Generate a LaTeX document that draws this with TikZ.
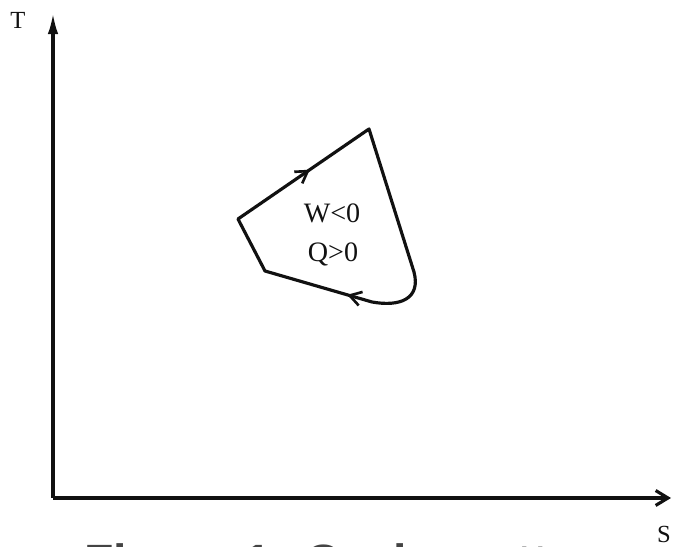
\documentclass[tikz,border=0pt]{standalone}
\usepackage{fontspec}
\setmainfont{Liberation Serif}
\newfontfamily\capfont{Liberation Sans}
\usepackage{tikz}
\usetikzlibrary{arrows.meta,decorations.markings}
\definecolor{ink}{HTML}{111111}
\definecolor{capgray}{HTML}{444444}
\tikzset{
  axisline/.style={line width=1.8pt,color=ink},
  cycline/.style={line width=1.8pt,color=ink,line join=round},
  axislabel/.style={font=\fontsize{14}{16}\selectfont,text=ink,inner sep=0pt},
  statelabel/.style={font=\fontsize{16}{19}\selectfont,text=ink,inner sep=0pt},
  flowarr/.style={decoration={markings,
      mark=at position 0.16 with {\arrow{Straight Barb[length=6.5pt,width=8pt,line width=1.5pt]}},
      mark=at position 0.735 with {\arrow{Straight Barb[length=6.5pt,width=8pt,line width=1.5pt]}}},
    postaction={decorate}},
  caption/.style={font=\capfont\bfseries\fontsize{27.4}{30}\selectfont,text=capgray,
    anchor=base west,inner sep=0pt},
}
\begin{document}
\begin{tikzpicture}[x=0.02cm,y=0.02cm]
  \useasboundingbox (0,0) rectangle (673,547);
  \clip (0,0) rectangle (673,547);
  \coordinate (O) at (53,49);
  \coordinate (ytop) at (53,534);
  \coordinate (xend) at (671,49);
  \draw[axisline,-{Latex[length=12pt,width=6pt]}] (O) -- (ytop);
  \draw[axisline,-{Straight Barb[length=7pt,width=8.5pt]}] (O) -- (xend);
  \node[axislabel] (T) at (18,527) {T};
  \node[axislabel] (S) at (664,13) {S};

  \coordinate (A) at (369,418);
  \coordinate (B) at (238,328);
  \coordinate (C) at (265,276);
  \coordinate (D) at (372,245);
  \coordinate (E) at (414,275);
  \draw[cycline,flowarr] (B) -- (A) -- (E) .. controls (421,248) and (400,240) .. (D) -- (C) -- cycle;
  \node[statelabel] (W) at (332,334) {W<0};
  \node[statelabel] (Q) at (333,293) {Q>0};

  \node[caption] (cap) at (84,-32) {Figure 1: Cycle matters};
\end{tikzpicture}
\end{document}
